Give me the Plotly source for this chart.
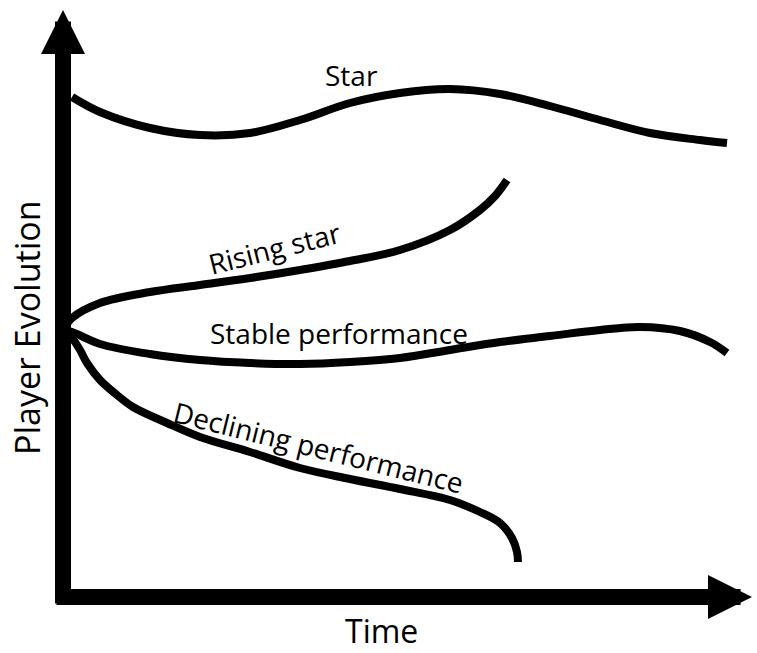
"""
Player evolution sketch: four stylised career curves over time
"""

import plotly.graph_objects as go

# ----------------Dati (unita' arbitrarie: tempo / evoluzione)
star_t = [9, 37, 87, 137, 187, 237, 287, 337, 387, 437, 487, 537, 587, 637, 664]
star_v = [500, 485, 469, 462, 464, 477, 494, 504, 508, 503, 491, 477, 464, 457, 454]

rising_t = [0, 9, 37, 87, 137, 187, 237, 287, 337, 387, 417, 432, 444]
rising_v = [267, 279, 294, 305, 312, 319, 327, 336, 347, 367, 387, 401, 417]

stable_t = [0, 9, 37, 87, 137, 187, 237, 287, 337, 387, 437, 487, 537, 577, 617, 647, 664]
stable_v = [267, 265, 253, 243, 237, 234, 233, 235, 239, 247, 255, 261, 267, 270, 266, 255, 244]

declining_t = [0, 9, 17, 24, 37, 54, 70, 104, 137, 187, 237, 287, 337, 387, 417, 437, 449, 454, 455]
declining_v = [267, 259, 247, 234, 217, 202, 190, 174, 160, 145, 129, 118, 108, 97, 85, 74, 59, 45, 35]

# etichette: testo, posizione, rotazione
labels = ["Star", "Rising star", "Stable performance", "Declining performance"]
label_t = [288, 211, 276, 255]
label_v = [522, 349, 264, 150]
label_angle = [0, -14, 0, 14]

# estensione degli assi disegnati a freccia
t_max = 689
v_max = 587
axis_start = -8

FONT = "Open Sans"

fig = go.Figure()

for t, v in [(star_t, star_v), (rising_t, rising_v),
             (stable_t, stable_v), (declining_t, declining_v)]:
    fig.add_trace(go.Scatter(
        x=t, y=v,
        mode="lines",
        line=dict(color="black", width=8, shape="spline", smoothing=1.0),
        hoverinfo="skip",
        showlegend=False,
    ))

# Assi a freccia
fig.add_annotation(x=0, y=v_max, ax=0, ay=axis_start, xref="x", yref="y",
                   axref="x", ayref="y", text="", showarrow=True,
                   arrowhead=2, arrowwidth=16, arrowsize=0.55, arrowcolor="black")
fig.add_annotation(x=t_max, y=0, ax=axis_start, ay=0, xref="x", yref="y",
                   axref="x", ayref="y", text="", showarrow=True,
                   arrowhead=2, arrowwidth=16, arrowsize=0.55, arrowcolor="black")

# Etichette delle curve
for txt, t, v, ang in zip(labels, label_t, label_v, label_angle):
    fig.add_annotation(x=t, y=v, text=txt, showarrow=False, textangle=ang,
                       font=dict(family=FONT, size=28, color="black"))

# Titoli degli assi
fig.add_annotation(x=318, y=-33, text="Time", showarrow=False,
                   font=dict(family=FONT, size=32, color="black"))
fig.add_annotation(x=-36, y=269, text="Player Evolution", showarrow=False,
                   textangle=-90, font=dict(family=FONT, size=34, color="black"))

fig.update_layout(
    width=757,
    height=653,
    margin=dict(t=0, b=0, l=0, r=0),
    paper_bgcolor="white",
    plot_bgcolor="white",
    xaxis=dict(range=[-63, 694], visible=False, fixedrange=True),
    yaxis=dict(range=[-56, 597], visible=False, fixedrange=True),
)

# niente margine di pagina: la figura occupa esattamente la finestra
fig.write_html("out.html", config={"displayModeBar": False},
               post_script="document.body.style.margin='0';")
